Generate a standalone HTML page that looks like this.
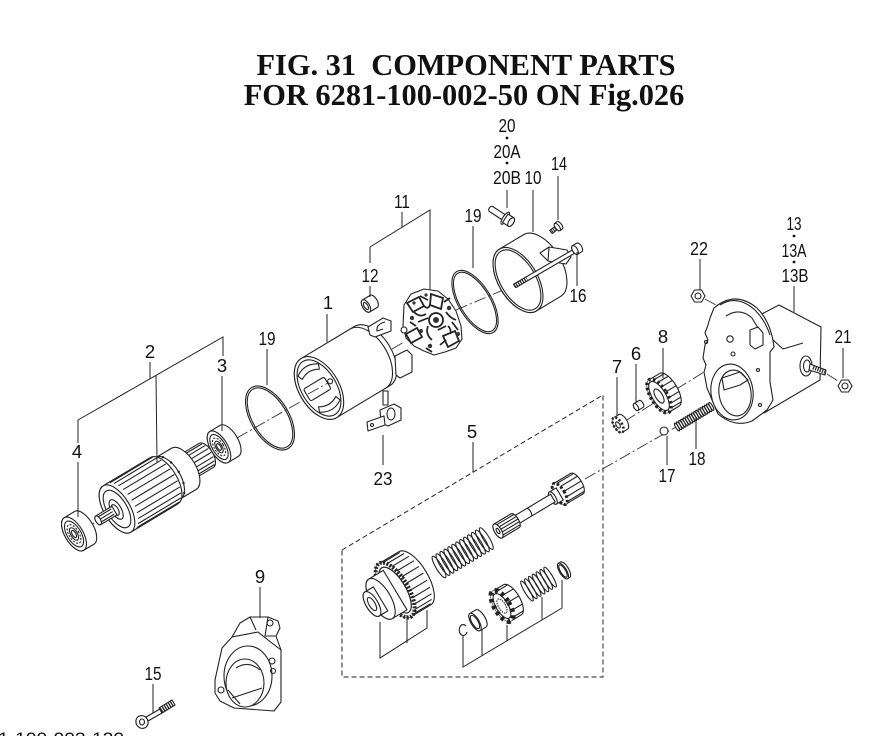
<!DOCTYPE html>
<html><head><meta charset="utf-8"><style>
html,body{margin:0;padding:0;background:#fff}
svg{display:block}
.s{fill:#fff;stroke:#222;stroke-width:1.1;stroke-linejoin:round}
.n{fill:none;stroke:#222;stroke-width:1.1;stroke-linejoin:round}
.l{fill:none;stroke:#222;stroke-width:1}
.dd{fill:none;stroke:#333;stroke-width:0.9;stroke-dasharray:12 3 2 3}
.lab{font-family:"Liberation Sans",sans-serif;font-size:18.5px;fill:#111;text-anchor:middle}
.ttl{font-family:"Liberation Serif",serif;font-weight:bold;font-size:30.4px;fill:#111;text-anchor:middle}
</style></head><body>
<svg width="889" height="736" viewBox="0 0 889 736" xmlns="http://www.w3.org/2000/svg">
<rect width="889" height="736" fill="#fff"/>

<!-- Title -->
<text class="ttl" x="466" y="75">FIG. 31&#160;&#160;COMPONENT PARTS</text>
<text class="ttl" x="464" y="105">FOR 6281-100-002-50 ON Fig.026</text>

<!-- centre lines -->
<path class="dd" d="M84,529 L99,520"/>
<path class="dd" d="M237,438 L300,402"/>
<path class="dd" d="M392,349 L404,342"/>
<path class="dd" d="M456,310 L515,285"/>
<path class="dd" d="M625,421 L733,354"/>
<path class="dd" d="M585,479 L676,427"/>
<path class="dd" d="M705,299 L716,305"/>
<path class="dd" d="M827,374 L838,381"/>

<!-- Bearing 4 -->
<g transform="matrix(.857,-.515,.515,.857,74,534)">
<path class="s" d="M0,-19 L12,-19 A9,19 0 0 1 12,19 L0,19 A9,19 0 0 1 0,-19Z"/>
<ellipse class="s" rx="9" ry="19"/>
<ellipse class="n" rx="7" ry="14.5"/>
<ellipse class="n" rx="5" ry="10.5" stroke-width="2" stroke-dasharray="2 1.5"/>
<ellipse class="n" rx="3.3" ry="7"/>
<ellipse class="n" rx="1.8" ry="4"/>
</g>

<!-- Armature 2 -->
<g transform="matrix(.857,-.515,.515,.857,117,509)">
<path class="s" d="M102,-4 L111,-4 A2,4 0 0 1 111,4 L102,4 Z"/>
<path class="s" d="M78,-14 L104,-14 A7,14 0 0 1 104,14 L78,14 Z"/>
<path class="n" d="M81.5,-12.1 L106.5,-12.1 M83.4,-9 L108.4,-9 M84.6,-4.8 L109.6,-4.8 M85,0 L110,0 M84.6,4.8 L109.6,4.8 M83.4,9 L108.4,9 M81.5,12.1 L106.5,12.1"/>
<path class="s" d="M53,-24 L78,-24 A12,24 0 0 1 78,24 L53,24 Z"/>
<path class="n" d="M60,-24 A12,24 0 0 1 60,24"/>
<g fill="#222"><circle cx="66" cy="-20.8" r="1.2"/><circle cx="70.4" cy="-12" r="1.2"/><circle cx="72" cy="0" r="1.2"/><circle cx="70.4" cy="12" r="1.2"/><circle cx="66" cy="20.8" r="1.2"/></g>
<path class="s" d="M0,-27 L55,-27 A13,27 0 0 1 55,27 L0,27 A13,27 0 0 1 0,-27Z"/>
<path class="n" d="M7.4,-26.1 L57.4,-26.1 M10.5,-23.4 L60.5,-23.4 M13.2,-19.1 L63.2,-19.1 M15.3,-13.5 L65.3,-13.5 M16.6,-7 L66.6,-7 M17,0 L67,0 M16.6,7 L66.6,7 M15.3,13.5 L65.3,13.5 M13.2,19.1 L63.2,19.1 M10.5,23.4 L60.5,23.4 M7.4,26.1 L57.4,26.1"/>
<ellipse class="s" rx="13" ry="27" stroke-width="1.3"/>
<ellipse class="n" rx="10" ry="21"/>
<ellipse class="s" cx="-1" rx="5" ry="11"/>
<ellipse class="n" cx="-2" rx="3" ry="6"/>
<path class="s" d="M-22,-5 L-3,-5 L-3,5 L-22,5 A2.5,5 0 0 1 -22,-5Z"/>
<ellipse class="s" cx="-22" rx="2.5" ry="5"/>
<path class="n" d="M-20,-3 L-5,-3 M-19.5,0 L-5,0 M-20,3 L-5,3"/>
</g>

<!-- Bearing 3 -->
<g transform="matrix(.857,-.515,.515,.857,219,447)">
<path class="s" d="M0,-18 L12,-18 A8.5,18 0 0 1 12,18 L0,18 A8.5,18 0 0 1 0,-18Z"/>
<ellipse class="s" rx="8.5" ry="18"/>
<ellipse class="n" rx="6.6" ry="14"/>
<ellipse class="n" rx="4.7" ry="10" stroke-width="2" stroke-dasharray="2 1.5"/>
<ellipse class="n" rx="3" ry="6.5"/>
<ellipse class="n" rx="1.7" ry="3.7"/>
</g>

<!-- O-ring 19 left -->
<g transform="matrix(.857,-.515,.515,.857,270,418)">
<ellipse class="n" rx="19" ry="35.5" stroke-width="1.3"/>
<ellipse class="n" rx="17.3" ry="33.5"/>
</g>

<!-- Yoke 1 -->
<g transform="matrix(.857,-.515,.515,.857,319,388)">
<path class="s" d="M0,-34.5 L62,-34.5 A20,34.5 0 0 1 62,34.5 L0,34.5 A20,34.5 0 0 1 0,-34.5Z"/>
<path class="n" d="M57,-34.5 A20,34.5 0 0 1 57,34.5"/>
<ellipse class="s" rx="20" ry="34.5" stroke-width="1.4"/>
<ellipse class="n" rx="17.5" ry="31"/>
<path class="n" stroke-width="1.3" d="M-12,-21 Q0,-29 12,-21 L10,-16 Q0,-22 -10,-16 Z"/>
<path class="n" stroke-width="1.3" d="M-12,21 Q0,29 12,21 L10,16 Q0,22 -10,16 Z"/>
<rect class="n" x="-14" y="-7" width="24" height="14" rx="2" stroke-width="1.3"/>
<circle class="n" cx="13" cy="0" r="2.5"/>
</g>
<path class="dd" d="M308,394 L328,383"/>
<path class="s" d="M368,327 L383,318 L391,321 L391,331 L375,337 L370,335 Z"/>
<path class="n" d="M385,322 Q376,324 377,331 L383,329"/>
<path class="s" d="M395,356 L407,350 L412,355 L412,372 L400,378 L396,375 Z"/>
<!-- terminal 23 -->
<path class="s" d="M383,391 L383,405 L388,405 L388,391 Z"/>
<path class="s" d="M380,410 L394,404 L401,408 L401,420 L388,426 L381,423 Z"/>
<ellipse class="n" cx="391" cy="414" rx="4" ry="6"/>
<path class="s" d="M367,422 L384,416 L385,425 L368,431 Z"/>
<circle class="n" cx="372" cy="425" r="1.5"/>

<!-- Brush holder 11 -->
<path class="s" stroke-width="1.5" d="M404,305 L411,294 L424,289 L438,291 L448,299 L456,311 L461,326 L462,339 L456,348 L445,352 L434,355 L424,351 L414,346 L406,338 L403,326 Z"/>
<path d="M407,303 L419,297 L424,306 L413,312 Z" fill="#fff" stroke="#222" stroke-width="1.8"/>
<path d="M431,294 L443,298 L441,309 L430,305 Z" fill="#fff" stroke="#222" stroke-width="1.8"/>
<circle cx="436" cy="320" r="7" fill="none" stroke="#222" stroke-width="1.8"/>
<circle cx="436" cy="320" r="3" fill="#333"/>
<path d="M406,334 L417,328 L422,337 L411,343 Z" fill="#fff" stroke="#222" stroke-width="1.8"/>
<path d="M443,336 L455,331 L459,341 L448,347 Z" fill="#fff" stroke="#222" stroke-width="1.8"/>
<path d="M414,312 Q420,318 426,314 M428,326 Q425,334 432,340 M446,312 Q450,318 456,320 M418,322 L428,318 M438,330 L446,326 M440,345 L446,340 M452,322 L458,330 M420,296 L428,300 M424,306 Q428,310 430,305 M410,322 L416,326 M444,302 L450,298 M426,348 L432,352 M448,326 Q452,330 450,334" stroke="#222" stroke-width="1.7" fill="none"/>
<g fill="#333"><circle cx="412" cy="318" r="2.2"/><circle cx="449" cy="308" r="2.2"/><circle cx="430" cy="346" r="2.2"/><circle cx="458" cy="334" r="2"/><circle cx="421" cy="331" r="2"/><circle cx="426" cy="295" r="1.6"/><circle cx="414" cy="303" r="1.6"/></g>
<circle class="s" cx="404" cy="330" r="3"/>

<!-- Part 12 -->
<g transform="matrix(.857,-.515,.515,.857,366,306)">
<path class="s" d="M0,-7 L9,-7 A3.5,7 0 0 1 9,7 L0,7 A3.5,7 0 0 1 0,-7Z"/>
<ellipse class="s" rx="3.5" ry="7"/>
<ellipse class="n" rx="1.8" ry="4"/>
</g>

<!-- O-ring 19 right -->
<g transform="matrix(.857,-.515,.515,.857,475,302)">
<ellipse class="n" rx="16.5" ry="35.5" stroke-width="1.3"/>
<ellipse class="n" rx="15" ry="33.5"/>
</g>

<!-- Cover 10 -->
<g transform="matrix(.857,-.515,.515,.857,518,280)">
<path class="s" d="M0,-36 L28,-36 A19.5,36 0 0 1 28,36 L0,36 A19.5,36 0 0 1 0,-36Z"/>
<ellipse class="s" rx="19.5" ry="36" stroke-width="1.3"/>
<ellipse class="n" rx="17.5" ry="33.5"/>
</g>
<path class="s" d="M540,253 L549,247 L567,250 L571,257 L566,264 L548,261 Z"/>
<path class="n" d="M549,247 L548,261"/>
<!-- Through bolt 16 -->
<path class="s" d="M514,284 L574,249 L576,252.5 L516,287.5 Z"/>
<path d="M514,286 L527,278.5" stroke="#222" stroke-width="4.5" stroke-dasharray="1.2 1.2" fill="none"/>
<g transform="matrix(.857,-.515,.515,.857,575,250)">
<path class="s" d="M0,-5 L5,-5 A2.5,5 0 0 1 5,5 L0,5 A2.5,5 0 0 1 0,-5Z"/>
<ellipse class="s" rx="2.5" ry="5"/>
</g>

<!-- Bolt 20 -->
<g transform="translate(491,209) rotate(33)">
<path class="s" d="M0,-3 L16,-3 L16,3 L0,3 A2,3 0 0 1 0,-3Z"/>
<ellipse class="s" cx="17" rx="2.5" ry="7"/>
<path class="s" d="M17,-5 L24,-5 A2.5,5 0 0 1 24,5 L17,5 Z"/>
<ellipse class="s" cx="24" rx="2.5" ry="5"/>
</g>
<!-- Screw 14 -->
<g transform="translate(551,232) rotate(-38)">
<path class="s" d="M0,-2 L8,-2 L8,2 L0,2 Z"/>
<path d="M1,0 L8,0" stroke="#222" stroke-width="4" stroke-dasharray="1 1" fill="none"/>
<path class="s" d="M8,-4.5 L11,-4.5 A2,4.5 0 0 1 11,4.5 L8,4.5 Z"/>
<ellipse class="s" cx="8" rx="2" ry="4.5"/>
</g>

<!-- Housing 13 -->
<path class="s" d="M758,316 L779,305 L821,327 L820,380 L764,413 Z"/>
<path class="n" d="M772,339 L783,349 L803,343"/>
<ellipse class="s" cx="806" cy="366" rx="6" ry="10"/>
<ellipse class="n" cx="807" cy="366" rx="3.5" ry="6"/>
<path class="s" d="M810,364 L826,370 L825,375 L809,370 Z"/>
<path d="M813,367.5 L825,372" stroke="#222" stroke-width="4" stroke-dasharray="1.2 1.2" fill="none"/>
<path class="s" stroke-width="1.2" d="M714,308 Q735,290 757,308 Q771,322 774,347 L770,352 L770,382 L773,400 L767,410 L752,421 Q735,428 718,414 L707,388 L704,372 L706,365 L703,358 L705,345 L708,340 L705,333 L708,325 L710,318 Z"/>
<path class="n" d="M720,305 Q737,294 755,310 Q765,320 770,335"/>
<path class="n" d="M726,316 Q740,307 752,318 L758,328"/>
<path class="n" d="M750,330 L758,327 L763,333 L763,345 L755,349 L750,345 Z"/>
<circle class="n" cx="730" cy="339" r="3.2"/>
<circle class="n" cx="733" cy="354" r="2"/>
<circle class="n" cx="706" cy="342" r="1.5"/>
<circle class="n" cx="758" cy="370" r="1.5"/>
<circle class="n" cx="760" cy="405" r="1.5"/>
<ellipse class="s" cx="732" cy="392" rx="21" ry="28" transform="rotate(-8 732 392)" stroke-width="1.3"/>
<ellipse class="n" cx="735" cy="393" rx="16" ry="23" transform="rotate(-8 735 393)"/>
<path class="n" d="M722,378 L740,372 L748,380 L740,385 L724,390Z"/>
<!-- nuts -->
<polygon class="s" points="705,296 701.5,302 694.5,302 691,296 694.5,290 701.5,290"/>
<circle class="n" cx="698" cy="296" r="3"/>
<polygon class="s" points="852,386 848.5,392 841.5,392 838,386 841.5,380 848.5,380"/>
<circle class="n" cx="845" cy="386" r="3"/>

<!-- Gear 8 -->
<g transform="matrix(.857,-.515,.515,.857,659,396)">
<path class="s" d="M0,-19 L12,-19 A8,19 0 0 1 12,19 L0,19 A8,19 0 0 1 0,-19Z"/>
<path class="n" stroke-width="1.5" d="M4,-16.5 L16,-16.5 M6.1,-12.2 L18.1,-12.2 M7.5,-6.5 L19.5,-6.5 M8,0 L20,0 M7.5,6.5 L19.5,6.5 M6.1,12.2 L18.1,12.2 M4,16.5 L16,16.5"/>
<ellipse rx="8" ry="19" fill="#fff" stroke="#222" stroke-width="3.5" stroke-dasharray="2.5 2.5"/>
<ellipse class="n" rx="6.8" ry="16.5"/>
<ellipse class="n" rx="3.5" ry="8"/>
</g>
<!-- Pin 6 -->
<g transform="matrix(.857,-.515,.515,.857,636,407)">
<path class="s" d="M0,-4 L6,-4 A2,4 0 0 1 6,4 L0,4 A2,4 0 0 1 0,-4Z"/>
<ellipse class="s" rx="2" ry="4"/>
</g>
<!-- Part 7 -->
<g transform="matrix(.857,-.515,.515,.857,618,425)">
<path class="s" d="M0,-8.5 L6,-8.5 A4,8.5 0 0 1 6,8.5 L0,8.5 A4,8.5 0 0 1 0,-8.5Z"/>
<ellipse rx="4" ry="8.5" fill="#fff" stroke="#222" stroke-width="2.5" stroke-dasharray="2 2"/>
<ellipse class="n" rx="1.8" ry="3.5"/>
</g>
<!-- Ball 17 -->
<circle class="s" cx="664" cy="431" r="4"/>
<!-- Spring 18 -->
<g transform="matrix(.857,-.515,.515,.857,677,427)" class="n" stroke-width="1.3">
<ellipse cx="0" rx="1.3" ry="4.5"/><ellipse cx="2.5" rx="1.3" ry="4.5"/><ellipse cx="5" rx="1.3" ry="4.5"/><ellipse cx="7.5" rx="1.3" ry="4.5"/><ellipse cx="10" rx="1.3" ry="4.5"/><ellipse cx="12.5" rx="1.3" ry="4.5"/><ellipse cx="15" rx="1.3" ry="4.5"/><ellipse cx="17.5" rx="1.3" ry="4.5"/><ellipse cx="20" rx="1.3" ry="4.5"/><ellipse cx="22.5" rx="1.3" ry="4.5"/><ellipse cx="25" rx="1.3" ry="4.5"/><ellipse cx="27.5" rx="1.3" ry="4.5"/><ellipse cx="30" rx="1.3" ry="4.5"/><ellipse cx="32.5" rx="1.3" ry="4.5"/><ellipse cx="35" rx="1.3" ry="4.5"/><ellipse cx="37.5" rx="1.3" ry="4.5"/><ellipse cx="40" rx="1.3" ry="4.5"/>
</g>

<!-- Dashed box 5 -->
<path d="M342,550 L603,395 L603,677 L342,677 Z" fill="none" stroke="#222" stroke-width="1" stroke-dasharray="5 3"/>

<!-- Pinion shaft -->
<g transform="matrix(.857,-.515,.515,.857,498,531)">
<path class="s" d="M72,-12 L92,-12 A5,12 0 0 1 92,12 L72,12 A5,12 0 0 1 72,-12Z"/>
<path class="n" stroke-width="1.4" d="M74.5,-10.4 L94.5,-10.4 M76.3,-6 L96.3,-6 M77,0 L97,0 M76.3,6 L96.3,6 M74.5,10.4 L94.5,10.4"/>
<ellipse rx="5" ry="12" cx="72" fill="#fff" stroke="#222" stroke-width="3" stroke-dasharray="2.5 2"/>
<path class="s" d="M64,-7 L72,-7 L72,7 L64,7 A3,7 0 0 1 64,-7Z"/>
<ellipse class="s" cx="64" rx="3" ry="7"/>
<path class="s" d="M18,-4.5 L64,-4.5 L64,4.5 L18,4.5 Z"/>
<path class="n" d="M36,-4.5 A2,4.5 0 0 1 36,4.5"/>
<path class="s" d="M0,-8 L20,-8 A3.5,8 0 0 1 20,8 L0,8 A3.5,8 0 0 1 0,-8Z"/>
<path class="n" d="M2.5,-6 L22,-6 M3,-3 L23,-3 M3.5,0 L23.5,0 M3,3 L23,3 M2.5,6 L22,6"/>
<ellipse class="s" rx="3.5" ry="8"/>
<ellipse class="n" rx="1.3" ry="3"/>
</g>

<!-- Big spring -->
<g transform="matrix(.857,-.515,.515,.857,439,567)" class="n" stroke-width="1.9">
<ellipse cx="0" rx="3" ry="12.5"/><ellipse cx="4.6" rx="3" ry="12.5"/><ellipse cx="9.2" rx="3" ry="12.5"/><ellipse cx="13.8" rx="3" ry="12.5"/><ellipse cx="18.4" rx="3" ry="12.5"/><ellipse cx="23" rx="3" ry="12.5"/><ellipse cx="27.6" rx="3" ry="12.5"/><ellipse cx="32.2" rx="3" ry="12.5"/><ellipse cx="36.8" rx="3" ry="12.5"/><ellipse cx="41.4" rx="3" ry="12.5"/><ellipse cx="46" rx="3" ry="12.5"/><ellipse cx="50.6" rx="3" ry="12.5"/><ellipse cx="55.2" rx="3" ry="12.5"/>
</g>

<!-- Clutch -->
<g transform="matrix(.857,-.515,.515,.857,372,604)">
<path class="s" d="M27,-31 L50,-31 A13,31 0 0 1 50,31 L27,31 A13,31 0 0 1 27,-31Z"/>
<path class="n" stroke-width="1.6" d="M30.4,-29.9 L50.4,-29.9 M33.5,-26.8 L53.5,-26.8 M36.2,-21.9 L56.2,-21.9 M38.3,-15.5 L58.3,-15.5 M39.6,-8 L59.6,-8 M40,0 L60,0 M39.6,8 L59.6,8 M38.3,15.5 L58.3,15.5 M36.2,21.9 L56.2,21.9 M33.5,26.8 L53.5,26.8 M30.4,29.9 L50.4,29.9"/>
<ellipse cx="27" rx="13" ry="31" fill="#fff" stroke="#222" stroke-width="4" stroke-dasharray="2 1.5"/>
<ellipse cx="27" rx="10.5" ry="26" fill="#fff" stroke="#222" stroke-width="1.2"/>
<path class="s" d="M10,-23 L27,-23 L27,23 L10,23 A10,23 0 0 1 10,-23Z"/>
<ellipse class="s" cx="10" rx="10" ry="23"/>
<path class="s" d="M0,-14 L10,-14 L10,14 L0,14 A6,14 0 0 1 0,-14Z"/>
<ellipse class="s" rx="6" ry="14"/>
<ellipse class="s" rx="3" ry="7.5"/>
</g>
<path class="l" d="M380,622 L380,658 L427,628 L427,610 M407,615 L407,643"/>

<!-- small parts in box -->
<path class="n" stroke-width="1.2" d="M466,626 A4,5.5 0 1 0 467,632"/>
<g transform="matrix(.857,-.515,.515,.857,475,622)">
<path class="s" d="M0,-10 L7,-10 A4,10 0 0 1 7,10 L0,10 A4,10 0 0 1 0,-10Z"/>
<ellipse class="s" rx="4" ry="10"/>
<ellipse class="n" rx="3" ry="7.5"/>
</g>
<g transform="matrix(.857,-.515,.515,.857,502,606)">
<path class="s" d="M0,-17.5 L12,-17.5 A7.5,17.5 0 0 1 12,17.5 L0,17.5 A7.5,17.5 0 0 1 0,-17.5Z"/>
<path class="n" stroke-width="1.5" d="M3.8,-15.2 L15.8,-15.2 M6.5,-8.8 L18.5,-8.8 M7.5,0 L19.5,0 M6.5,8.8 L18.5,8.8 M3.8,15.2 L15.8,15.2"/>
<ellipse rx="7.5" ry="17.5" fill="#fff" stroke="#222" stroke-width="5" stroke-dasharray="3.5 3.5"/>
<ellipse class="n" rx="6" ry="14"/>
<ellipse class="n" rx="3.5" ry="8" stroke-width="1.6" stroke-dasharray="1.5 1"/>
</g>
<g transform="matrix(.857,-.515,.515,.857,527,591)" class="n" stroke-width="1.9">
<ellipse cx="0" rx="2.5" ry="11.5"/><ellipse cx="4.5" rx="2.5" ry="11.5"/><ellipse cx="9" rx="2.5" ry="11.5"/><ellipse cx="13.5" rx="2.5" ry="11.5"/><ellipse cx="18" rx="2.5" ry="11.5"/><ellipse cx="22.5" rx="2.5" ry="11.5"/><ellipse cx="27" rx="2.5" ry="11.5"/>
</g>
<g transform="matrix(.857,-.515,.515,.857,563,571)">
<path class="s" d="M0,-9 L2.5,-9 A3.5,9 0 0 1 2.5,9 L0,9 A3.5,9 0 0 1 0,-9Z"/>
<ellipse class="s" rx="3.5" ry="9" stroke-width="1.3"/>
<ellipse class="n" rx="2.5" ry="7"/>
</g>
<path class="l" d="M463,635 L463,667 L562,608 L562,580 M482,630 L482,656 M507,625 L507,641 M542,597 L542,620"/>

<!-- Drive housing 9 -->
<path class="s" stroke-width="1.2" d="M232,637 L240,623 L250,617 L268,617 L278,621 L280,628 L276,636 L281,650 L281,702 L274,711 L234,708 L220,701 L215,693 L215,680 L222,648 Z"/>
<path class="n" d="M232,637 L258,632 L268,640 L281,650"/>
<path class="n" d="M250,617 L256,630 M268,617 L265,636 L276,636"/>
<ellipse class="n" cx="248" cy="676" rx="24" ry="30"/>
<ellipse class="s" cx="245" cy="683" rx="19" ry="24"/>
<path class="n" d="M232,698 L262,688 M236,668 Q248,660 260,670 M228,690 L240,704"/>
<circle class="n" cx="270" cy="623" r="3"/>
<circle class="n" cx="272" cy="661" r="3"/>
<circle class="n" cx="273" cy="671" r="2.5"/>
<circle class="n" cx="221" cy="690" r="3"/>

<!-- Bolt 15 -->
<path class="s" d="M146,717 L160,709 L162,713 L148,721 Z"/>
<path class="s" d="M159,708 L172,700 L175,705 L162,713 Z"/>
<path d="M161,710.5 L173,703" stroke="#222" stroke-width="5" stroke-dasharray="1.3 1.1" fill="none"/>
<ellipse class="s" cx="142" cy="722" rx="6" ry="6.5" transform="rotate(-30 142 722)" stroke-width="1.4"/>
<ellipse class="n" cx="142" cy="722" rx="2.5" ry="3"/>

<!-- Leader lines -->
<g class="l">
<path d="M507,190 L507,208"/>
<path d="M533,190 L533,232"/>
<path d="M558,176 L558,220"/>
<path d="M402,212 L402,227 M370,247 L430,210 L430,290 M370,247 L370,263"/>
<path d="M370,286 L370,297"/>
<path d="M327,314 L327,342"/>
<path d="M473,226 L473,268"/>
<path d="M577,252 L577,286"/>
<path d="M267,349 L267,385"/>
<path d="M223,356 L223,337 L78,420 L78,443 M222,376 L222,431 M78,462 L78,517 M150,362 L150,379 M156,375 L157,462"/>
<path d="M383,435 L383,465"/>
<path d="M260,587 L260,618"/>
<path d="M153,684 L153,713"/>
<path d="M473,442 L473,472"/>
<path d="M700,259 L700,290"/>
<path d="M794,286 L794,312"/>
<path d="M843,348 L843,378"/>
<path d="M663,348 L663,378"/>
<path d="M636,364 L636,402"/>
<path d="M617,377 L617,415"/>
<path d="M696,417 L696,449"/>
<path d="M667,436 L667,465"/>
</g>
<g fill="#111"><circle cx="507" cy="138" r="1.4"/><circle cx="507" cy="163" r="1.4"/><circle cx="794" cy="236" r="1.4"/><circle cx="794" cy="262" r="1.4"/></g>

<!-- Labels -->
<g class="lab">
<text x="507" y="132" textLength="17" lengthAdjust="spacingAndGlyphs">20</text>
<text x="507" y="158" textLength="27" lengthAdjust="spacingAndGlyphs">20A</text>
<text x="507" y="184" textLength="28" lengthAdjust="spacingAndGlyphs">20B</text>
<text x="533" y="184" textLength="17" lengthAdjust="spacingAndGlyphs">10</text>
<text x="559" y="170" textLength="16" lengthAdjust="spacingAndGlyphs">14</text>
<text x="402" y="208" textLength="16" lengthAdjust="spacingAndGlyphs">11</text>
<text x="370" y="282" textLength="17" lengthAdjust="spacingAndGlyphs">12</text>
<text x="328" y="309">1</text>
<text x="473" y="222" textLength="17" lengthAdjust="spacingAndGlyphs">19</text>
<text x="578" y="302" textLength="17" lengthAdjust="spacingAndGlyphs">16</text>
<text x="267" y="345" textLength="17" lengthAdjust="spacingAndGlyphs">19</text>
<text x="150" y="358">2</text>
<text x="222" y="372">3</text>
<text x="77" y="458">4</text>
<text x="383" y="485" textLength="19" lengthAdjust="spacingAndGlyphs">23</text>
<text x="260" y="583">9</text>
<text x="153" y="680" textLength="17" lengthAdjust="spacingAndGlyphs">15</text>
<text x="472" y="438">5</text>
<text x="699" y="255" textLength="18" lengthAdjust="spacingAndGlyphs">22</text>
<text x="794" y="230" textLength="15" lengthAdjust="spacingAndGlyphs">13</text>
<text x="794" y="257" textLength="25" lengthAdjust="spacingAndGlyphs">13A</text>
<text x="795" y="282" textLength="27" lengthAdjust="spacingAndGlyphs">13B</text>
<text x="843" y="343" textLength="17" lengthAdjust="spacingAndGlyphs">21</text>
<text x="663" y="343">8</text>
<text x="636" y="360">6</text>
<text x="617" y="373">7</text>
<text x="697" y="465" textLength="17" lengthAdjust="spacingAndGlyphs">18</text>
<text x="667" y="482" textLength="17" lengthAdjust="spacingAndGlyphs">17</text>
</g>
<text x="-2" y="744" font-family="Liberation Sans, sans-serif" font-size="17" fill="#111" textLength="126" lengthAdjust="spacingAndGlyphs">1-100-002-120</text>
</svg>
</body></html>
